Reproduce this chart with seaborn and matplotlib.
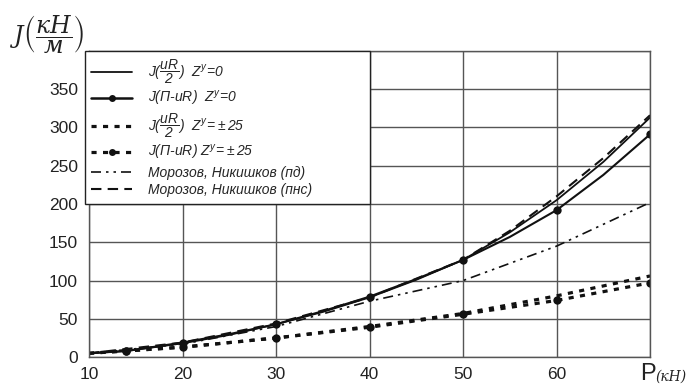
import matplotlib
matplotlib.use("Agg")
import matplotlib.pyplot as plt
import seaborn as sns
import numpy as np
from matplotlib.lines import Line2D

# ---- data ----
x_s1 = [10, 14, 20, 25, 30, 35, 40, 45, 50, 55, 60, 65, 70]
y_s1 = [5, 8, 18, 29, 43, 59, 78, 101, 127, 163, 205, 255, 313]

x_s2 = [10, 14, 20, 25, 30, 35, 40, 45, 50, 55, 60, 65, 70]
y_s2 = [5, 8, 19, 30, 43, 60, 79, 102, 127, 157, 192, 238, 291]
mark_s2 = [1, 2, 4, 6, 8, 10, 12]

x_s3 = [10, 20, 30, 40, 50, 60, 70]
y_s3 = [5, 13, 25, 40, 57, 80, 106]

x_s4 = [10, 14, 20, 30, 40, 50, 60, 70]
y_s4 = [5, 8, 13, 25, 39, 56, 74, 97]
mark_s4 = [1, 2, 3, 4, 5, 6, 7]

x_s5 = [10, 20, 30, 40, 50, 60, 70]
y_s5 = [5, 17, 40, 73, 100, 145, 202]

x_s6 = [10, 20, 30, 40, 50, 55, 60, 65, 70]
y_s6 = [5, 19, 44, 78, 127, 165, 210, 260, 316]

labels = [
    r"$J(\dfrac{uR}{2})\ \ Z^{y}\!=\!0$",
    r"$J(\Pi\text{-}uR)\ \ Z^{y}\!=\!0$",
    r"$J(\dfrac{uR}{2})\ \ Z^{y}\!=\!\pm25$",
    r"$J(\Pi\text{-}uR)\ Z^{y}\!=\!\pm25$",
    "Морозов, Никишков (пд)",
    "Морозов, Никишков (пнс)",
]
x_ticks = [10, 20, 30, 40, 50, 60]
y_ticks = [0, 50, 100, 150, 200, 250, 300, 350]

# ---- style ----
sns.set_style("white")
plt.rcParams["font.family"] = ["Liberation Sans", "DejaVu Sans"]
plt.rcParams["mathtext.fontset"] = "custom"
plt.rcParams["mathtext.it"] = "Liberation Sans:italic"
plt.rcParams["mathtext.rm"] = "Liberation Sans:italic"
plt.rcParams["mathtext.sf"] = "Liberation Sans"

fig = plt.figure(figsize=(6.87, 3.92), dpi=100)
ax = fig.add_axes([0.1296, 0.089, 0.9462 - 0.1296, 0.870 - 0.089])

k = "#111111"
sns.lineplot(x=x_s1, y=y_s1, ax=ax, color=k, lw=1.3, sort=False)
sns.lineplot(x=x_s2, y=y_s2, ax=ax, color=k, lw=1.5, marker="o", markersize=6,
             markevery=mark_s2, markeredgewidth=0, sort=False)
sns.lineplot(x=x_s3, y=y_s3, ax=ax, color=k, lw=2.3, sort=False).lines[-1].set_dashes([1.6, 2.0])
sns.lineplot(x=x_s4, y=y_s4, ax=ax, color=k, lw=2.3, marker="o", markersize=6,
             markevery=mark_s4, markeredgewidth=0, sort=False).lines[-1].set_dashes([1.6, 2.0])
sns.lineplot(x=x_s5, y=y_s5, ax=ax, color=k, lw=1.2, sort=False).lines[-1].set_dashes([6, 3, 1.5, 3, 1.5, 3])
sns.lineplot(x=x_s6, y=y_s6, ax=ax, color=k, lw=1.5, sort=False).lines[-1].set_dashes([5, 3])

ax.set_xlim(10, 70)
ax.set_ylim(0, 400)
ax.set_xticks(x_ticks + [70])
ax.set_xticklabels([str(v) for v in x_ticks] + [""])
ax.set_yticks(y_ticks + [400])
ax.set_yticklabels([str(v) for v in y_ticks] + [""])
ax.grid(True, color="#555555", lw=1.0)
ax.set_axisbelow(True)
for s in ax.spines.values():
    s.set_color("#555555")
    s.set_linewidth(1.0)
ax.tick_params(axis="both", direction="out", length=4, width=1, color="#555555",
               labelsize=12.5, labelcolor="#222222", pad=3)
ax.tick_params(axis="y", pad=4)

# axis labels
fig.text(0.015, 0.912, r"$J\left(\dfrac{\mathit{кН}}{\mathit{м}}\right)$", fontsize=17,
         ha="left", va="center", color="#222222", math_fontfamily="dejavuserif")
fig.text(0.932, 0.046, "P", fontsize=17, ha="left", va="center", color="#222222")
fig.text(0.999, 0.04, "(кН)", fontsize=10, ha="right", va="center", color="#222222",
         style="italic", family=["DejaVu Serif"])

# legend
handles = [
    Line2D([], [], color=k, lw=1.3),
    Line2D([], [], color=k, lw=1.8, marker="o", markersize=5, markeredgewidth=0),
    Line2D([], [], color=k, lw=2.3, dashes=[1.6, 2.0]),
    Line2D([], [], color=k, lw=2.3, dashes=[1.6, 2.0], marker="o", markersize=5, markeredgewidth=0),
    Line2D([], [], color=k, lw=1.2, dashes=[6, 3, 1.5, 3, 1.5, 3]),
    Line2D([], [], color=k, lw=1.5, dashes=[5, 3]),
]
leg = ax.legend(handles, labels, loc="upper left", bbox_to_anchor=(-0.008, 0.5, 0.508, 0.5),
                mode="expand", borderaxespad=0, frameon=True, fancybox=False, framealpha=1,
                edgecolor="#222222", fontsize=10, labelspacing=0.25,
                handlelength=3.0, handletextpad=1.1, borderpad=0.45)
leg.get_frame().set_linewidth(1.0)
for t in leg.get_texts()[4:]:
    t.set_style("italic")

fig.savefig("out.png", dpi=100, facecolor="white")
